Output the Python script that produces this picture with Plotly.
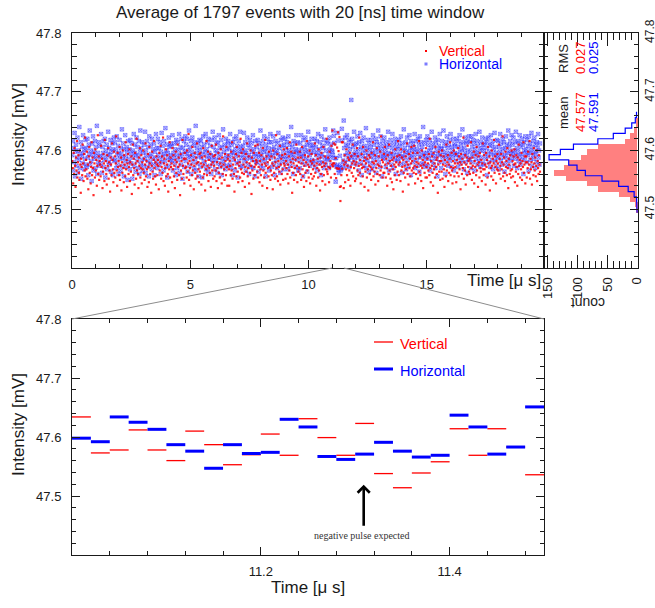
import numpy as np
import plotly.graph_objects as go

W, H = 655, 608
FONT = "Liberation Sans, Arial, Helvetica, sans-serif"
INK = "#1a1a1a"

# ---------------- data ----------------
title_text = "Average of 1797 events with 20 [ns] time window"
bin_width_us = 0.02          # 20 ns time window
code_base = 47.5             # value = code_base + code * code_step  [mV]
code_step = 0.002

# per-window averages over the full record (codes)
red_codes = """
41 35 22 48 30 52 37 19 44 33 58 27 40 46 31 25 50 38 14 43 36 29 55 39 24 47 33 61 28 42
34 49 26 38 17 45 53 31 40 22 36 57 29 44 35 12 48 39 27 51 33 42 20 37 63 30 45 25 41 38
28 54 36 43 18 32 47 39 24 59 35 41 30 21 46 37 52 26 40 33 15 44 38 29 56 42 34 23 49 31
45 27 39 62 33 20 48 36 41 29 53 25 37 44 16 40 31 50 35 23 46 38 28 57 34 42 19 39 47 30
36 51 24 40 32 45 13 38 55 29 43 35 21 48 39 26 60 33 41 30 18 44 37 52 27 35 46 22 40 34
50 31 43 25 38 56 28 41 34 19 47 36 23 53 39 30 44 14 37 49 32 26 42 58 35 28 40 21 45 38
29 42 37 17 48 33 40 54 26 36 45 31 61 24 39 43 20 35 51 28 38 46 30 15 41 34 57 27 44 36
39 23 52 34 46 28 37 18 42 49 31 40 25 55 36 44 29 38 12 47 33 41 26 59 37 30 43 22 48 35
43 36 27 50 32 39 64 25 41 35 20 46 38 29 53 33 42 17 37 48 31 26 44 39 56 28 40 34 23 47
32 48 39 21 44 36 27 52 38 30 45 16 41 34 58 29 37 49 24 42 35 31 47 19 38 54 33 40 26 45
37 28 46 33 55 24 40 35 18 48 31 43 27 39 51 36 22 44 30 62 38 34 25 47 41 29 53 36 20 43
46 34 20 41 37 29 49 33 57 26 38 44 30 15 42 35 47 28 53 39 32 23 45 37 40 27 60 34 48 31
24 51 38 30 43 19 36 47 32 40 56 28 35 45 22 39 31 50 37 13 44 33 41 26 48 36 29 54 38 42
40 32 55 27 36 48 23 41 34 29 46 38 20 52 33 43 27 39 59 31 37 45 18 40 35 28 49 36 42 25
33 45 29 39 17 50 37 31 44 26 40 63 35 28 47 24 41 36 32 54 21 38 43 30 46 34 25 51 39 37
47 26 41 35 52 30 38 22 45 33 57 27 40 49 36 14 43 31 39 25 48 35 42 29 55 37 23 44 32 40
35 49 30 44 25 39 53 34 28 42 19 37 46 31 40 24 58 33 38 45 27 36 50 22 41 30 47 39 26 34
42 28 37 56 31 46 20 39 35 43 27 51 33 38 16 44 30 48 36 24 40 53 29 37 45 21 39 34 60 32
30 44 36 23 49 35 41 27 54 38 67 36 39 56 39 30 55 43 26 35 52 34 65 49 34 61 19 7 19 29
57 34 57 41 18 38 46 23 40 34 51 29 37 44 25 42 33 48 20 36 45 31 39 55 28 41 35 47 24 38
26 40 52 33 45 29 37 61 31 42 22 38 47 35 28 53 36 41 19 44 32 39 50 27 43 34 16 46 37 30
44 36 25 48 34 40 57 28 39 32 46 21 41 35 52 30 38 24 45 37 29 49 33 62 36 42 27 40 31 47
31 53 38 27 43 35 20 46 39 30 55 33 41 26 37 48 23 42 34 17 44 38 29 51 36 40 25 45 32 58
38 29 46 40 24 51 33 44 36 15 42 31 49 37 27 45 34 40 56 30 38 21 47 35 43 28 39 53 33 41
48 35 31 54 37 22 43 30 40 36 48 26 39 58 32 44 29 37 24 50 35 42 18 38 46 31 40 27 52 36
27 43 39 33 47 29 60 35 23 41 37 45 31 20 48 34 39 27 53 36 42 30 44 14 38 49 32 41 25 46
41 32 50 26 38 45 34 19 42 37 28 55 33 40 46 24 38 31 43 57 29 36 48 33 22 41 35 50 28 39
36 47 23 42 31 39 52 28 45 34 40 17 47 38 30 43 35 61 26 40 33 46 21 38 44 29 54 36 41 32
43 30 39 57 35 25 44 37 31 49 22 41 36 46 29 53 33 38 19 45 40 27 48 35 32 42 24 39 56 34
29 46 34 38 21 48 36 42 27 53 39 31 45 16 40 35 28 50 37 43 25 39 59 31 45 36 22 41 34 47
39 33 55 30 43 37 26 47 34 40 62 28 38 44 31 24 49 36 41 29 52 35 18 43 38 30 46 33 27 50
34 41 28 45 38 51 23 39 32 46 36 20 44 30 55 37 42 27 39 34 48 25 41 36 57 31 38 45 22 40
45 27 40 35 49 31 38 58 26 43 34 40 21 47 36 29 52 39 33 44 28 37 50 24 41 35 30 46 38 32
""".split()

blue_codes = """
46 58 33 52 40 65 28 49 55 37 44 61 31 50 42 70 35 47 57 26 45 53 39 63 48 34 51 43 59 38
52 36 60 44 29 55 47 67 38 50 41 24 56 46 62 33 49 43 58 35 53 45 71 30 48 40 57 37 54 44
39 64 45 31 53 48 58 36 42 60 27 50 44 55 34 47 66 40 52 38 46 59 32 49 43 56 29 51 61 41
57 42 50 35 62 46 38 54 30 48 59 43 33 52 47 68 37 44 56 28 51 41 63 45 36 53 49 25 58 40
43 51 34 59 47 39 56 26 50 44 64 37 48 55 32 46 61 41 53 35 45 58 30 49 67 38 52 42 57 33
48 37 55 43 66 31 50 46 58 36 41 53 28 62 45 39 55 47 34 60 43 51 38 56 29 49 44 64 40 52
35 60 46 52 38 57 43 30 49 65 40 54 45 33 58 47 41 69 36 50 55 27 48 44 61 37 53 42 56 46
54 41 63 33 48 44 56 39 51 29 59 46 35 57 42 50 64 31 45 53 38 60 47 26 52 43 58 36 49 62
41 55 47 60 32 50 45 67 37 53 44 58 30 49 61 40 46 54 35 57 43 71 33 48 52 39 56 28 45 59
50 36 58 44 53 27 47 62 41 55 38 49 64 34 51 45 57 32 60 43 48 37 54 46 30 59 42 66 39 53
45 61 34 50 42 57 48 31 56 39 63 44 52 36 47 59 29 53 41 68 38 49 55 43 34 60 46 51 37 56
58 43 52 38 64 46 35 55 49 29 57 42 48 60 33 51 45 62 39 54 27 47 58 41 50 66 36 53 44 49
37 54 46 65 41 50 57 33 48 43 61 38 55 46 30 52 59 44 36 56 49 42 63 35 51 47 28 58 45 40
53 40 59 47 32 56 44 50 67 37 46 54 41 58 35 49 62 43 51 28 55 39 47 60 44 52 33 57 48 64
44 57 36 51 46 62 39 53 29 48 58 42 50 35 56 47 65 38 52 44 31 59 45 54 40 61 49 34 55 43
60 45 52 39 57 48 34 62 43 50 55 37 47 70 41 53 46 30 58 49 44 56 36 51 63 42 48 57 33 50
47 35 56 44 63 40 51 47 28 59 45 53 38 61 49 43 55 32 50 66 41 57 46 37 54 48 60 42 52 39
55 49 41 60 36 53 46 58 33 48 64 42 51 39 57 45 29 62 47 54 40 52 35 59 44 68 38 50 56 43
42 58 47 35 61 51 44 55 38 50 49 46 67 62 56 43 38 23 43 36 37 65 58 33 31 35 45 38 33 34
68 58 35 41 75 52 40 61 46 55 37 63 48 54 42 59 36 51 45 57 93 44 60 39 53 47 66 42 55 49
46 56 38 62 44 51 33 57 47 65 40 53 29 58 45 50 61 37 54 43 48 69 35 52 41 59 46 32 56 50
39 53 45 59 34 48 63 42 55 37 50 46 60 31 57 44 52 67 40 49 55 36 62 45 51 28 58 43 47 54
61 44 50 36 57 46 53 40 66 48 33 55 43 59 47 38 52 64 45 35 56 49 42 60 30 53 46 57 41 51
43 59 47 54 38 62 45 31 56 50 44 68 39 52 46 57 34 49 61 42 55 37 48 63 45 52 29 58 44 50
56 40 53 46 64 35 49 58 42 51 37 60 47 55 32 62 44 50 57 39 53 46 70 38 48 56 43 36 59 45
48 62 37 55 43 50 59 33 52 46 66 41 56 48 38 53 45 61 35 57 43 50 28 59 47 54 40 64 46 52
35 51 58 44 49 67 40 54 46 30 57 43 62 48 52 37 55 45 59 41 64 47 36 53 50 44 60 33 56 48
54 46 41 60 47 53 36 58 44 63 49 39 55 42 51 68 45 57 34 52 48 61 40 56 46 31 58 50 43 62
42 57 49 35 62 45 53 40 59 47 56 33 51 64 43 48 58 38 54 46 41 66 50 36 57 44 52 61 39 55
50 38 56 47 43 60 52 29 57 45 61 40 49 54 36 63 47 55 42 58 34 51 46 65 41 53 48 37 59 44
58 45 34 53 49 64 41 56 47 38 60 51 44 57 32 52 46 62 39 55 48 43 67 36 54 50 58 41 47 63
44 55 48 61 37 50 57 43 66 46 52 35 58 49 41 56 63 45 38 53 47 60 42 55 30 57 50 44 62 48
51 40 59 46 54 33 62 48 56 42 50 65 37 53 46 58 43 61 49 35 55 47 40 57 52 64 44 50 38 56
""".split()

# zoomed window 11.0 - 11.5 us (25 windows of 20 ns), values in mV
zoom_start_index = 550
zoom_red = [47.634, 47.573, 47.578, 47.612, 47.578, 47.560, 47.610, 47.587, 47.553, 47.570,
            47.605, 47.569, 47.631, 47.599, 47.569, 47.623, 47.538, 47.514, 47.539, 47.558,
            47.614, 47.569, 47.614, 47.583, 47.536]
zoom_blue = [47.598, 47.592, 47.634, 47.625, 47.613, 47.587, 47.576, 47.547, 47.587, 47.572,
             47.574, 47.630, 47.617, 47.567, 47.562, 47.571, 47.591, 47.576, 47.566, 47.569,
             47.637, 47.617, 47.571, 47.583, 47.651]

# projection histogram (bin centres in mV, counts)
hist_bin = 0.009
hist_centers = [47.4985, 47.5075, 47.5165, 47.5255, 47.5345, 47.5435, 47.5525, 47.5615, 47.5705,
                47.5795, 47.5885, 47.5975, 47.6065, 47.6155, 47.6245, 47.6335, 47.6425, 47.6515, 47.6605]
hist_red = [1, 3, 12, 31, 66, 84, 120, 140, 123, 114, 95, 84, 66, 20, 12, 5, 2, 1, 0]
hist_blue = [0, 1, 1, 5, 15, 31, 59, 87, 101, 115, 148, 129, 107, 66, 40, 20, 9, 3, 1]

stat_labels = ["mean", "RMS"]
stat_red = ["47.577", "0.027"]
stat_blue = ["47.591", "0.025"]

# ---------------- derived series ----------------
red_vals = np.array([code_base + int(c) * code_step for c in red_codes])
blue_vals = np.array([code_base + int(c) * code_step for c in blue_codes])
red_vals[zoom_start_index:zoom_start_index + len(zoom_red)] = zoom_red
blue_vals[zoom_start_index:zoom_start_index + len(zoom_blue)] = zoom_blue
t_red = (np.arange(len(red_vals)) + 0.5) * bin_width_us
t_blue = (np.arange(len(blue_vals)) + 0.5) * bin_width_us

zoom_t0 = zoom_start_index * bin_width_us


def seg_xy(vals):
    xs, ys = [], []
    for i, v in enumerate(vals):
        lo = zoom_t0 + i * bin_width_us
        xs += [lo, lo + bin_width_us, None]
        ys += [v, v, None]
    return xs, ys


def step_xy(centers, counts):
    xs, ys = [0], [centers[0] - hist_bin / 2]
    for c, n in zip(centers, counts):
        xs += [n, n]
        ys += [c - hist_bin / 2, c + hist_bin / 2]
    xs.append(0)
    ys.append(centers[-1] + hist_bin / 2)
    return xs, ys


def PX(x):
    return x / W


def PY(y):
    return 1 - y / H


# ---------------- figure ----------------
fig = go.Figure()

fig.add_trace(go.Scatter(x=t_blue, y=blue_vals, mode="markers", xaxis="x", yaxis="y",
                         marker=dict(symbol="square-x", size=3.6, color="rgba(150,150,255,0.45)",
                                     line=dict(width=0.6, color="rgba(20,20,255,0.6)")),
                         showlegend=False))
fig.add_trace(go.Scatter(x=t_red, y=red_vals, mode="markers", xaxis="x", yaxis="y",
                         marker=dict(symbol="square", size=2.2, color="rgba(255,0,0,0.85)", line=dict(width=0)),
                         showlegend=False))

fig.add_trace(go.Bar(x=hist_red, y=hist_centers, orientation="h", width=hist_bin,
                     xaxis="x2", yaxis="y2", marker=dict(color="#ff8080", line=dict(width=0)),
                     showlegend=False))
bx, by = step_xy(hist_centers, hist_blue)
fig.add_trace(go.Scatter(x=bx, y=by, mode="lines", xaxis="x2", yaxis="y2",
                         line=dict(color="#0000ff", width=1.2), showlegend=False))

rx, ry = seg_xy(zoom_red)
fig.add_trace(go.Scatter(x=rx, y=ry, mode="lines", xaxis="x3", yaxis="y3",
                         line=dict(color="#ff0000", width=1.3), showlegend=False))
gx, gy = seg_xy(zoom_blue)
fig.add_trace(go.Scatter(x=gx, y=gy, mode="lines", xaxis="x3", yaxis="y3",
                         line=dict(color="#0000ff", width=3), showlegend=False))

# panel geometry (pixels)
TOP = dict(x0=72, x1=544, y0=33, y1=268)
HIS = dict(x0=544, x1=638, y0=33, y1=268)
BOT = dict(x0=72, x1=544, y0=319, y1=555)
top_xrange = [0, 19.96]


def axis_style(**kw):
    d = dict(showline=True, linecolor=INK, linewidth=1, mirror="allticks", ticks="inside",
             tickcolor=INK, tickwidth=1, showgrid=False, zeroline=False, automargin=False,
             tickfont=dict(family=FONT, size=13, color=INK))
    d.update(kw)
    return d


def minor(dtick, tick0, length):
    return dict(tickmode="linear", dtick=dtick, tick0=tick0, ticks="inside", ticklen=length,
                tickcolor=INK, showgrid=False)


fig.update_layout(
    width=W, height=H, margin=dict(l=0, r=0, t=0, b=0, pad=0), autosize=False,
    paper_bgcolor="white", plot_bgcolor="white", showlegend=False, bargap=0,
    xaxis=axis_style(domain=[PX(TOP["x0"]), PX(TOP["x1"])], anchor="y", range=top_xrange,
                     tickmode="array", tickvals=[0, 5, 10, 15], ticklen=8,
                     minor=minor(1, 0, 4), ticklabelstandoff=4),
    yaxis=axis_style(domain=[PY(TOP["y1"]), PY(TOP["y0"])], anchor="x", range=[47.4, 47.8],
                     tickmode="array", tickvals=[47.5, 47.6, 47.7, 47.8], ticktext=["47.5", "47.6", "47.7", "47.8"],
                     ticklen=9, minor=minor(0.02, 47.4, 5), ticklabelstandoff=7),
    xaxis2=axis_style(domain=[PX(HIS["x0"]), PX(HIS["x1"])], anchor="y2", range=[156.5, -1.5],
                      tickmode="array", tickvals=[0, 50, 100, 150], tickangle=-90, ticklen=13,
                      minor=minor(10, 0, 7), ticklabelstandoff=3),
    yaxis2=axis_style(domain=[PY(HIS["y1"]), PY(HIS["y0"])], anchor="x2", side="right", range=[47.4, 47.8],
                      tickmode="array", tickvals=[47.5, 47.6, 47.7, 47.8], ticktext=["47.5", "47.6", "47.7", "47.8"],
                      tickangle=-90, ticklen=8, minor=minor(0.02, 47.4, 4), ticklabelstandoff=1,
                      tickfont=dict(family=FONT, size=12, color=INK)),
    xaxis3=axis_style(domain=[PX(BOT["x0"]), PX(BOT["x1"])], anchor="y3", range=[11.0, 11.5],
                      tickmode="array", tickvals=[11.2, 11.4], ticktext=["11.2", "11.4"], ticklen=8,
                      minor=minor(0.04, 11.0, 4), ticklabelstandoff=4),
    yaxis3=axis_style(domain=[PY(BOT["y1"]), PY(BOT["y0"])], anchor="x3", range=[47.4, 47.8],
                      tickmode="array", tickvals=[47.5, 47.6, 47.7, 47.8], ticktext=["47.5", "47.6", "47.7", "47.8"],
                      ticklen=8, minor=minor(0.02, 47.4, 4), ticklabelstandoff=7),
)


def ann(x, y, text, size=17, color=INK, xanchor="center", angle=0, family=FONT):
    fig.add_annotation(x=PX(x), y=PY(y), xref="paper", yref="paper", text=text, showarrow=False,
                       xanchor=xanchor, yanchor="middle", textangle=angle,
                       font=dict(family=family, size=size, color=color))


ann(300, 12, title_text, size=17)
ann(543, 280, "Time [μ s]", size=17, xanchor="right")
ann(308, 587, "Time [μ s]", size=17)
ann(18, 135, "Intensity [mV]", size=17, angle=-90)
ann(18, 425, "Intensity [mV]", size=17, angle=-90)
ann(588, 303, "count", size=14, angle=180)

# statistics box of the projection
ann(564, 113, stat_labels[0], size=13, angle=-90)
ann(564, 59, stat_labels[1], size=13, angle=-90)
ann(580, 112, stat_red[0], size=13, color="#ff0000", angle=-90)
ann(580, 58, stat_red[1], size=13, color="#ff0000", angle=-90)
ann(593, 112, stat_blue[0], size=13, color="#0000ff", angle=-90)
ann(593, 58, stat_blue[1], size=13, color="#0000ff", angle=-90)

# legends
ann(437, 51, "Vertical", size=14, color="#ff0000", xanchor="left")
ann(437, 64, "Horizontal", size=14, color="#0000ff", xanchor="left")
fig.add_shape(type="rect", xref="paper", yref="paper", x0=PX(425), x1=PX(427), y0=PY(52), y1=PY(50),
              fillcolor="#ff0000", line=dict(width=0))
fig.add_shape(type="rect", xref="paper", yref="paper", x0=PX(424.5), x1=PX(427.5), y0=PY(65.5), y1=PY(62.5),
              fillcolor="rgba(90,90,255,0.8)", line=dict(width=0))

ann(398, 344, "Vertical", size=14.5, color="#ff0000", xanchor="left")
ann(398, 371, "Horizontal", size=14.5, color="#0000ff", xanchor="left")
fig.add_shape(type="line", xref="paper", yref="paper", x0=PX(374), x1=PX(393), y0=PY(342), y1=PY(342),
              line=dict(color="#ff0000", width=1.3))
fig.add_shape(type="line", xref="paper", yref="paper", x0=PX(374), x1=PX(393), y0=PY(369), y1=PY(369),
              line=dict(color="#0000ff", width=3))

# zoom connector lines (from the zoomed time range on the upper axis to the lower panel corners)
def top_t_to_paper(t):
    d0, d1 = PX(TOP["x0"]), PX(TOP["x1"])
    return d0 + (t - top_xrange[0]) / (top_xrange[1] - top_xrange[0]) * (d1 - d0)


zoom_t1 = zoom_t0 + len(zoom_red) * bin_width_us
for t_edge, corner in [(zoom_t0, BOT["x0"]), (zoom_t1, BOT["x1"])]:
    fig.add_shape(type="line", xref="paper", yref="paper",
                  x0=top_t_to_paper(t_edge), y0=PY(TOP["y1"]), x1=PX(corner), y1=PY(BOT["y0"]),
                  line=dict(color="#8c8c8c", width=1))

# arrow marking where the pulse is expected
arrow_t, arrow_tip, arrow_tail = 11.309, 47.519, 47.447
fig.add_annotation(x=arrow_t, y=arrow_tip, ax=arrow_t, ay=arrow_tail, xref="x3", yref="y3",
                   axref="x3", ayref="y3", text="", showarrow=True, arrowhead=4, arrowsize=0.9,
                   arrowwidth=2.6, arrowcolor="#000000")
ann(362, 535, "negative pulse expected", size=10, color="#333333",
    family="Liberation Serif, Times New Roman, serif")

# remove the browser's default page margin so the 655x608 figure fills the window exactly
fig.write_html("out.html", config={"displayModeBar": False},
               post_script="document.body.style.margin='0';document.body.style.overflow='hidden';")
